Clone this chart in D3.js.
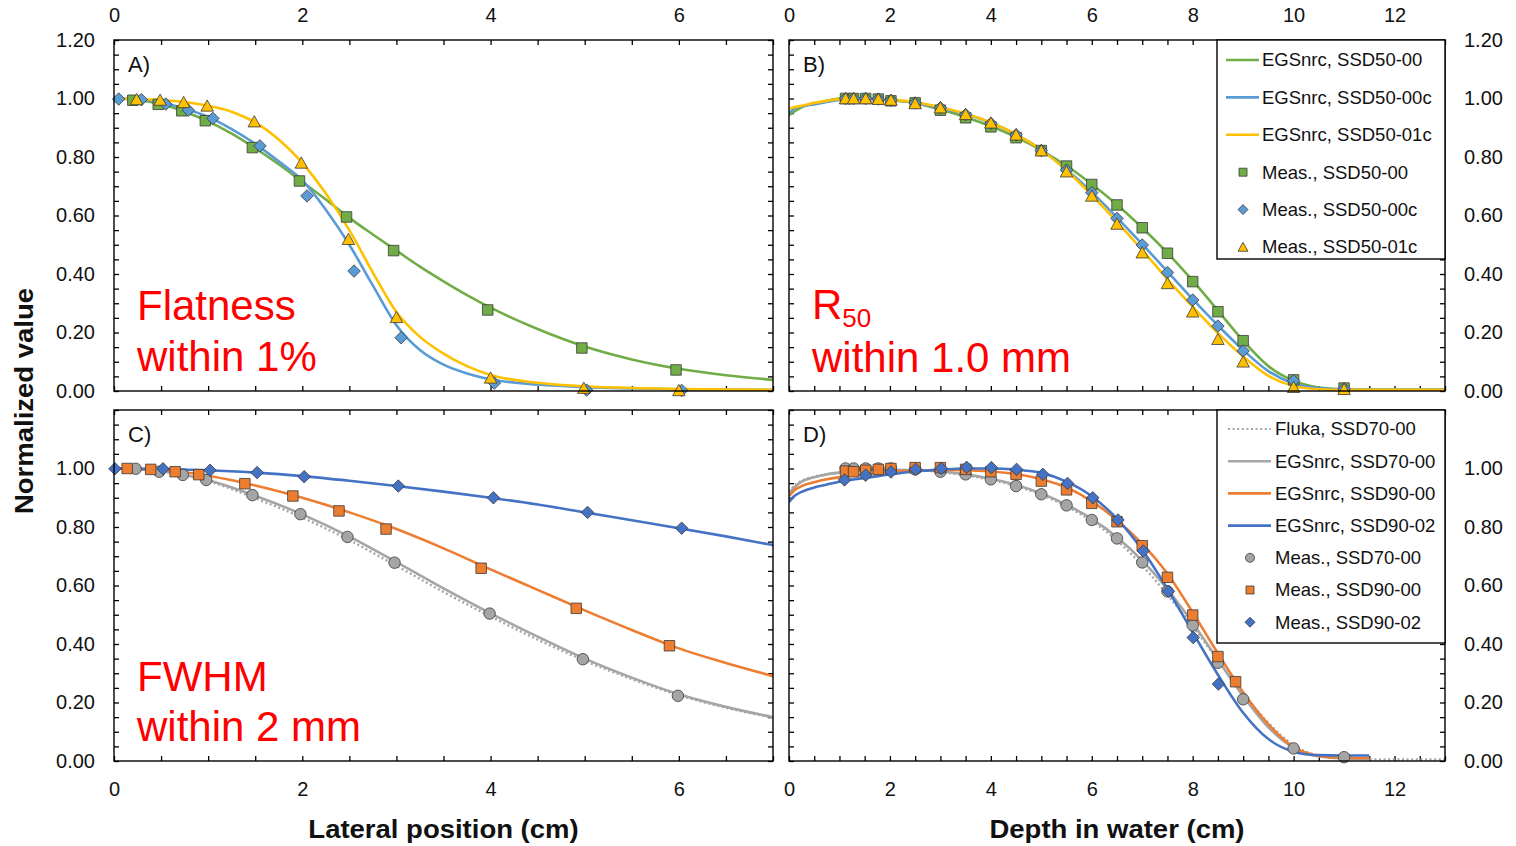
<!DOCTYPE html>
<html>
<head>
<meta charset="utf-8">
<script src="https://cdn.jsdelivr.net/npm/d3@7"></script>
<style>
  body { margin: 0; background: #fff; }
  svg { display: block; font-family: "Liberation Sans", Arial, sans-serif; }
</style>
</head>
<body>
<div id="chart"></div>
<script>
// ---------- Panel A: lateral profiles, SSD50 ----------
const aGrid = [0, 0.25, 0.5, 0.75, 1, 1.25, 1.5, 1.75, 2, 2.25, 2.5, 2.75, 3, 3.25, 3.5, 3.75, 4, 4.5, 5, 5.5, 6, 6.5, 7];
const aEgs5000 = [1.0, 0.995, 0.98, 0.955, 0.922, 0.88, 0.83, 0.775, 0.715, 0.655, 0.592, 0.535, 0.48, 0.425, 0.375, 0.328, 0.285, 0.212, 0.152, 0.108, 0.076, 0.054, 0.038];
const aEgs5000c = [1.0, 0.997, 0.987, 0.965, 0.937, 0.895, 0.845, 0.785, 0.72, 0.62, 0.5, 0.36, 0.225, 0.14, 0.09, 0.06, 0.04, 0.022, 0.013, 0.009, 0.006, 0.005, 0.004];
const aEgs5001c = [1.0, 0.998, 0.995, 0.988, 0.975, 0.955, 0.918, 0.86, 0.78, 0.675, 0.55, 0.405, 0.27, 0.185, 0.128, 0.085, 0.055, 0.028, 0.016, 0.01, 0.007, 0.005, 0.004];
const aMeas5000X = [0.2, 0.47, 0.72, 0.97, 1.47, 1.97, 2.47, 2.97, 3.97, 4.97, 5.97];
const aMeas5000 = [0.994, 0.98, 0.958, 0.924, 0.832, 0.718, 0.595, 0.48, 0.277, 0.147, 0.072];
const aMeas5000cX = [0.05, 0.29, 0.55, 0.79, 1.05, 1.55, 2.05, 2.55, 3.05, 4.04, 5.02, 6.03];
const aMeas5000c = [0.998, 0.996, 0.981, 0.96, 0.932, 0.838, 0.667, 0.41, 0.182, 0.027, 0.003, 0.002];
const aMeas5001cX = [0.24, 0.49, 0.74, 0.99, 1.49, 1.99, 2.49, 3.0, 4.0, 4.99, 6.0];
const aMeas5001c = [0.997, 0.995, 0.987, 0.975, 0.921, 0.78, 0.519, 0.252, 0.045, 0.01, 0.002];

// ---------- Panel B: depth dose, SSD50 ----------
const bGrid = [0, 0.1, 0.25, 0.5, 0.75, 1, 1.5, 2, 2.5, 3, 3.5, 4, 4.5, 5, 5.5, 6, 6.5, 7, 7.5, 8, 8.5, 9, 9.5, 10, 10.5, 11, 12, 13];
const bEgs5000 = [0.943, 0.955, 0.97, 0.982, 0.992, 1.0, 1.0, 0.995, 0.984, 0.962, 0.936, 0.905, 0.868, 0.823, 0.77, 0.707, 0.637, 0.558, 0.472, 0.377, 0.275, 0.172, 0.085, 0.035, 0.012, 0.006, 0.005, 0.005];
const bEgs5000c = [0.95, 0.965, 0.973, 0.98, 0.988, 0.995, 1.0, 0.995, 0.985, 0.968, 0.946, 0.917, 0.877, 0.825, 0.757, 0.68, 0.593, 0.502, 0.408, 0.314, 0.224, 0.14, 0.068, 0.026, 0.01, 0.005, 0.005, 0.005];
const bEgs5001c = [0.965, 0.97, 0.975, 0.985, 0.992, 0.998, 1.0, 0.996, 0.987, 0.97, 0.948, 0.918, 0.877, 0.824, 0.754, 0.67, 0.578, 0.482, 0.382, 0.288, 0.198, 0.118, 0.052, 0.017, 0.006, 0.004, 0.004, 0.004];
const bMeasX = [1.12, 1.28, 1.52, 1.77, 2.02, 2.5, 3, 3.5, 4, 4.5, 5, 5.5, 6, 6.5, 7, 7.5, 8, 8.5, 9, 10, 11];
const bMeas5000 = [1.0, 1.0, 1.0, 0.998, 0.992, 0.985, 0.96, 0.934, 0.903, 0.866, 0.822, 0.769, 0.706, 0.636, 0.558, 0.471, 0.374, 0.271, 0.172, 0.038, 0.01];
const bMeas5000c = [1.0, 1.0, 1.0, 0.998, 0.994, 0.985, 0.968, 0.945, 0.915, 0.876, 0.822, 0.755, 0.678, 0.59, 0.499, 0.405, 0.311, 0.222, 0.137, 0.035, 0.008];
const bMeas5001c = [1.0, 1.0, 1.0, 0.998, 0.995, 0.983, 0.969, 0.946, 0.917, 0.876, 0.822, 0.75, 0.667, 0.571, 0.473, 0.368, 0.271, 0.177, 0.1, 0.013, 0.006];

// ---------- Panel C: lateral profiles, SSD70/90 ----------
const cGrid = [0, 0.25, 0.5, 0.75, 1, 1.5, 2, 2.5, 3, 3.5, 4, 4.5, 5, 5.5, 6, 6.5, 7];
const cFluka7000 = [1.0, 0.998, 0.99, 0.977, 0.957, 0.898, 0.832, 0.755, 0.667, 0.578, 0.494, 0.415, 0.343, 0.28, 0.225, 0.182, 0.148];
const cEgs7000 = [1.0, 0.998, 0.99, 0.978, 0.96, 0.907, 0.843, 0.767, 0.68, 0.59, 0.505, 0.425, 0.35, 0.285, 0.228, 0.185, 0.15];
const cEgs9000 = [1.0, 0.999, 0.995, 0.987, 0.975, 0.942, 0.9, 0.85, 0.793, 0.727, 0.655, 0.585, 0.515, 0.448, 0.385, 0.335, 0.29];
const cEgs9002 = [1.0, 0.999, 0.998, 0.996, 0.994, 0.986, 0.974, 0.958, 0.94, 0.921, 0.9, 0.877, 0.85, 0.823, 0.796, 0.768, 0.738];
const cMeas7000X = [0.23, 0.48, 0.73, 0.98, 1.47, 1.98, 2.48, 2.98, 3.99, 4.98, 5.99];
const cMeas7000 = [0.999, 0.989, 0.978, 0.961, 0.909, 0.844, 0.766, 0.678, 0.504, 0.348, 0.223];
const cMeas9000X = [0.14, 0.39, 0.65, 0.9, 1.39, 1.9, 2.39, 2.89, 3.9, 4.91, 5.9];
const cMeas9000 = [1.0, 0.997, 0.989, 0.979, 0.948, 0.906, 0.855, 0.793, 0.659, 0.522, 0.394];
const cMeas9002X = [0.01, 0.52, 1.02, 1.52, 2.02, 3.02, 4.03, 5.03, 6.03];
const cMeas9002 = [0.999, 0.999, 0.994, 0.986, 0.972, 0.94, 0.9, 0.85, 0.796];

// ---------- Panel D: depth dose, SSD70/90 ----------
const dGrid = [0, 0.1, 0.25, 0.5, 0.75, 1, 1.5, 2, 2.5, 3, 3.5, 4, 4.5, 5, 5.5, 6, 6.5, 7, 7.5, 8, 8.5, 9, 9.5, 10, 10.5, 11, 11.5];
const dFlukaGrid = [0, 0.1, 0.25, 0.5, 0.75, 1, 1.5, 2, 2.5, 3, 3.5, 4, 4.5, 5, 5.5, 6, 6.5, 7, 7.5, 8, 8.5, 9, 9.5, 10, 10.5, 11, 11.5, 12, 12.5, 13];
const dFluka7000 = [0.92, 0.94, 0.958, 0.972, 0.981, 0.987, 0.993, 0.995, 0.994, 0.988, 0.977, 0.961, 0.94, 0.91, 0.87, 0.82, 0.754, 0.668, 0.568, 0.46, 0.345, 0.232, 0.13, 0.054, 0.018, 0.008, 0.006, 0.005, 0.005, 0.005];
const dEgs7000 = [0.915, 0.935, 0.955, 0.97, 0.98, 0.986, 0.992, 0.995, 0.995, 0.99, 0.98, 0.965, 0.944, 0.915, 0.876, 0.828, 0.765, 0.685, 0.587, 0.472, 0.346, 0.222, 0.115, 0.045, 0.016, 0.009, 0.008];
const dEgs9000 = [0.905, 0.925, 0.94, 0.953, 0.963, 0.97, 0.98, 0.988, 0.993, 0.995, 0.994, 0.99, 0.981, 0.963, 0.935, 0.888, 0.823, 0.742, 0.64, 0.508, 0.368, 0.235, 0.125, 0.048, 0.017, 0.011, 0.01];
const dEgs9002 = [0.885, 0.905, 0.92, 0.935, 0.945, 0.955, 0.968, 0.98, 0.99, 0.996, 1.0, 1.0, 0.996, 0.985, 0.955, 0.905, 0.828, 0.722, 0.588, 0.44, 0.295, 0.165, 0.075, 0.032, 0.02, 0.019, 0.019];
const dMeas7000X = [1.12, 1.28, 1.52, 1.77, 2.02, 2.5, 3, 3.5, 4, 4.5, 5, 5.5, 6, 6.5, 7, 7.5, 8, 8.5, 9, 10, 11];
const dMeas7000 = [1.0, 1.0, 1.0, 1.0, 1.0, 0.997, 0.989, 0.98, 0.963, 0.94, 0.912, 0.874, 0.824, 0.761, 0.679, 0.58, 0.464, 0.336, 0.211, 0.043, 0.013];
const dMeas9000X = [1.12, 1.28, 1.52, 1.77, 2.02, 2.5, 3, 3.5, 4, 4.5, 5, 5.5, 6, 6.5, 7, 7.5, 8, 8.5, 8.85];
const dMeas9000 = [0.991, 0.989, 0.994, 0.997, 1.0, 1.003, 1.003, 0.997, 0.989, 0.98, 0.957, 0.927, 0.881, 0.818, 0.736, 0.628, 0.499, 0.357, 0.271];
const dMeas9002X = [1.1, 1.52, 2.02, 2.51, 3.02, 3.52, 4.01, 4.51, 5.03, 5.52, 6.02, 6.52, 7.02, 7.52, 8.01, 8.51];
const dMeas9002 = [0.961, 0.977, 0.988, 0.997, 1.0, 1.004, 1.003, 0.997, 0.98, 0.949, 0.9, 0.824, 0.718, 0.58, 0.422, 0.263];

// ---------- tick labels ----------
const yLabelsTop = [0, 0.2, 0.4, 0.6, 0.8, 1.0, 1.2];
const yLabelsBottom = [0, 0.2, 0.4, 0.6, 0.8, 1.0];
const xLabelsLateral = [0, 2, 4, 6];
const xLabelsDepth = [0, 2, 4, 6, 8, 10, 12];

const col = {
  green: "#70AD47",
  lightBlue: "#5B9BD5",
  yellow: "#FFC000",
  orange: "#ED7D31",
  gray: "#A5A5A5",
  blue: "#4472C4",
};

// marker shapes, size = width in px
const shapes = {
  square: { draw(c, s) { const h = s / 2; c.rect(-h, -h, s, s); } },
  diamond: { draw(c, s) { const h = s / 2; c.moveTo(0, -h); c.lineTo(h, 0); c.lineTo(0, h); c.lineTo(-h, 0); c.closePath(); } },
  triangle: { draw(c, s) { const h = s / 2; c.moveTo(0, -h * 0.95); c.lineTo(h, h * 0.85); c.lineTo(-h, h * 0.85); c.closePath(); } },
  circle: { draw(c, s) { const r = s / 2; c.moveTo(r, 0); c.arc(0, 0, r, 0, 2 * Math.PI); } },
};

const W = 1516, H = 846;
const svg = d3.select("#chart").append("svg").attr("width", W).attr("height", H);

const panels = [
  {
    name: "A", left: 114, right: 773, top: 40, bottom: 391, xMax: 7,
    yLabels: yLabelsTop, ySide: "left", xLabels: xLabelsLateral, xSide: "top",
    lines: [
      { x: aGrid, y: aEgs5000, color: col.green },
      { x: aGrid, y: aEgs5000c, color: col.lightBlue },
      { x: aGrid, y: aEgs5001c, color: col.yellow },
    ],
    markers: [
      { x: aMeas5000X, y: aMeas5000, shape: "square", size: 10.5, color: col.green },
      { x: aMeas5000cX, y: aMeas5000c, shape: "diamond", size: 12.5, color: col.lightBlue },
      { x: aMeas5001cX, y: aMeas5001c, shape: "triangle", size: 12.5, color: col.yellow },
    ],
    note: [{ t: "Flatness", y: 320 }, { t: "within 1%", y: 371 }],
  },
  {
    name: "B", left: 789, right: 1445, top: 40, bottom: 391, xMax: 13,
    yLabels: yLabelsTop, ySide: "right", xLabels: xLabelsDepth, xSide: "top",
    lines: [
      { x: bGrid, y: bEgs5000, color: col.green },
      { x: bGrid, y: bEgs5000c, color: col.lightBlue },
      { x: bGrid, y: bEgs5001c, color: col.yellow },
    ],
    markers: [
      { x: bMeasX, y: bMeas5000, shape: "square", size: 10.5, color: col.green },
      { x: bMeasX, y: bMeas5000c, shape: "diamond", size: 12.5, color: col.lightBlue },
      { x: bMeasX, y: bMeas5001c, shape: "triangle", size: 12.5, color: col.yellow },
    ],
    note: [{ t: "R", sub: "50", y: 319 }, { t: "within 1.0 mm", y: 372 }],
    legend: {
      left: 1217, top: 40, width: 228, height: 219, rowTop: 60, rowStep: 37.4,
      lineX: [1226, 1259], textX: 1262, markX: 1243,
      items: [
        { label: "EGSnrc, SSD50-00", line: col.green },
        { label: "EGSnrc, SSD50-00c", line: col.lightBlue },
        { label: "EGSnrc, SSD50-01c", line: col.yellow },
        { label: "Meas., SSD50-00", shape: "square", color: col.green, size: 8 },
        { label: "Meas., SSD50-00c", shape: "diamond", color: col.lightBlue, size: 10 },
        { label: "Meas., SSD50-01c", shape: "triangle", color: col.yellow, size: 10 },
      ],
    },
  },
  {
    name: "C", left: 114, right: 773, top: 410, bottom: 761, xMax: 7,
    yLabels: yLabelsBottom, ySide: "left", xLabels: xLabelsLateral, xSide: "bottom",
    lines: [
      { x: cGrid, y: cFluka7000, color: col.gray, dash: "2,2.6", width: 2.4 },
      { x: cGrid, y: cEgs7000, color: col.gray },
      { x: cGrid, y: cEgs9000, color: col.orange },
      { x: cGrid, y: cEgs9002, color: col.blue },
    ],
    markers: [
      { x: cMeas7000X, y: cMeas7000, shape: "circle", size: 11.5, color: col.gray },
      { x: cMeas9000X, y: cMeas9000, shape: "square", size: 10.5, color: col.orange },
      { x: cMeas9002X, y: cMeas9002, shape: "diamond", size: 12.5, color: col.blue },
    ],
    note: [{ t: "FWHM", y: 691 }, { t: "within 2 mm", y: 741 }],
  },
  {
    name: "D", left: 789, right: 1445, top: 410, bottom: 761, xMax: 13,
    yLabels: yLabelsBottom, ySide: "right", xLabels: xLabelsDepth, xSide: "bottom",
    lines: [
      { x: dFlukaGrid, y: dFluka7000, color: col.gray, dash: "2,2.6", width: 2.4 },
      { x: dGrid, y: dEgs7000, color: col.gray },
      { x: dGrid, y: dEgs9000, color: col.orange },
      { x: dGrid, y: dEgs9002, color: col.blue },
    ],
    markers: [
      { x: dMeas7000X, y: dMeas7000, shape: "circle", size: 11.5, color: col.gray },
      { x: dMeas9000X, y: dMeas9000, shape: "square", size: 10.5, color: col.orange },
      { x: dMeas9002X, y: dMeas9002, shape: "diamond", size: 12.5, color: col.blue },
    ],
    legend: {
      left: 1217, top: 410, width: 228, height: 233, rowTop: 429, rowStep: 32.2,
      lineX: [1228, 1271], textX: 1275, markX: 1250,
      items: [
        { label: "Fluka, SSD70-00", line: col.gray, dash: "2,2.6", width: 2 },
        { label: "EGSnrc, SSD70-00", line: col.gray },
        { label: "EGSnrc, SSD90-00", line: col.orange },
        { label: "EGSnrc, SSD90-02", line: col.blue },
        { label: "Meas., SSD70-00", shape: "circle", color: col.gray, size: 9 },
        { label: "Meas., SSD90-00", shape: "square", color: col.orange, size: 8 },
        { label: "Meas., SSD90-02", shape: "diamond", color: col.blue, size: 10 },
      ],
    },
  },
];

function drawPanel(p) {
  const x = d3.scaleLinear().domain([0, p.xMax]).range([p.left, p.right]);
  const y = d3.scaleLinear().domain([0, 1.2]).range([p.bottom, p.top]);
  const g = svg.append("g").attr("class", `panel panel-${p.name}`);

  g.append("clipPath").attr("id", `clip-${p.name}`)
    .append("rect")
    .attr("x", p.left).attr("y", p.top)
    .attr("width", p.right - p.left).attr("height", p.bottom - p.top);

  // minor ticks on all four sides, pointing inward
  const yTicks = d3.range(0, 25).map((i) => i * 0.05);
  const xTicks = d3.range(0, p.xMax * 2 + 1).map((i) => i * 0.5);
  const tickAxes = [
    [d3.axisLeft(y).tickValues(yTicks), `translate(${p.left},0)`],
    [d3.axisRight(y).tickValues(yTicks), `translate(${p.right},0)`],
    [d3.axisTop(x).tickValues(xTicks), `translate(0,${p.top})`],
    [d3.axisBottom(x).tickValues(xTicks), `translate(0,${p.bottom})`],
  ];
  tickAxes.forEach(([axis, tr]) => {
    g.append("g")
      .attr("transform", tr)
      .call(axis.tickSize(-5).tickFormat(""))
      .call((a) => a.select(".domain").remove())
      .call((a) => a.selectAll("line").attr("stroke", "#000").attr("stroke-width", 1.3));
  });

  // value labels
  const yAxis = p.ySide === "left" ? d3.axisLeft(y) : d3.axisRight(y);
  g.append("g")
    .attr("transform", `translate(${p.ySide === "left" ? p.left : p.right},0)`)
    .call(yAxis.tickValues(p.yLabels).tickSize(0).tickPadding(19).tickFormat(d3.format(".2f")))
    .attr("font-size", 20).attr("font-family", null)
    .call((a) => a.select(".domain").remove())
    .call((a) => a.selectAll("text").attr("fill", "#111"));

  const xAxis = p.xSide === "top" ? d3.axisTop(x) : d3.axisBottom(x);
  g.append("g")
    .attr("transform", `translate(0,${p.xSide === "top" ? p.top : p.bottom})`)
    .call(xAxis.tickValues(p.xLabels).tickSize(0).tickPadding(p.xSide === "top" ? 18 : 21).tickFormat(d3.format("d")))
    .attr("font-size", 20).attr("font-family", null)
    .call((a) => a.select(".domain").remove())
    .call((a) => a.selectAll("text").attr("fill", "#111"));

  // curves
  const line = d3.line().x((d) => x(d[0])).y((d) => y(d[1])).curve(d3.curveMonotoneX);
  const plot = g.append("g").attr("clip-path", `url(#clip-${p.name})`);
  plot.selectAll("path.curve")
    .data(p.lines)
    .join("path")
    .attr("class", "curve")
    .attr("d", (s) => line(d3.zip(s.x, s.y)))
    .attr("fill", "none")
    .attr("stroke", (s) => s.color)
    .attr("stroke-width", (s) => s.width || 2.6)
    .attr("stroke-dasharray", (s) => s.dash || null)
    .attr("stroke-linejoin", "round");

  // measured points
  p.markers.forEach((m) => {
    const sym = d3.symbol().type(shapes[m.shape]).size(m.size);
    g.append("g")
      .selectAll("path")
      .data(d3.zip(m.x, m.y))
      .join("path")
      .attr("transform", (d) => `translate(${x(d[0])},${y(d[1])})`)
      .attr("d", sym)
      .attr("fill", m.color)
      .attr("stroke", "#3a3a3a")
      .attr("stroke-width", 0.8);
  });

  // frame
  g.append("rect")
    .attr("x", p.left).attr("y", p.top)
    .attr("width", p.right - p.left).attr("height", p.bottom - p.top)
    .attr("fill", "none").attr("stroke", "#000").attr("stroke-width", 1.4);

  // panel letter
  g.append("text")
    .attr("x", p.left + 14).attr("y", p.top + 32)
    .attr("font-size", 22).attr("fill", "#111")
    .text(`${p.name})`);

  // red annotation
  if (p.note) {
    p.note.forEach((n) => {
      const t = g.append("text")
        .attr("x", p.left + 23).attr("y", n.y)
        .attr("font-size", 42).attr("fill", "#FF0000")
        .text(n.t);
      if (n.sub) {
        t.append("tspan").attr("font-size", 26).attr("dy", 8).text(n.sub);
      }
    });
  }

  // legend
  if (p.legend) {
    const L = p.legend;
    const lg = g.append("g").attr("class", "legend");
    lg.append("rect")
      .attr("x", L.left).attr("y", L.top)
      .attr("width", L.width).attr("height", L.height)
      .attr("fill", "#fff").attr("stroke", "#000").attr("stroke-width", 1.4);
    L.items.forEach((it, i) => {
      const cy = L.rowTop + i * L.rowStep;
      if (it.line) {
        lg.append("line")
          .attr("x1", L.lineX[0]).attr("x2", L.lineX[1])
          .attr("y1", cy).attr("y2", cy)
          .attr("stroke", it.line)
          .attr("stroke-width", it.width || 2.6)
          .attr("stroke-dasharray", it.dash || null);
      } else {
        lg.append("path")
          .attr("transform", `translate(${L.markX},${cy})`)
          .attr("d", d3.symbol().type(shapes[it.shape]).size(it.size))
          .attr("fill", it.color)
          .attr("stroke", "#3a3a3a")
          .attr("stroke-width", 0.8);
      }
      lg.append("text")
        .attr("x", L.textX).attr("y", cy)
        .attr("dy", "0.35em")
        .attr("font-size", 18.5).attr("fill", "#111")
        .text(it.label);
    });
  }
}

panels.forEach(drawPanel);

// axis titles (slightly widened, like the source figure)
const titles = [
  { t: "Lateral position (cm)", tr: "translate(443.5,838) scale(1.1,1)" },
  { t: "Depth in water (cm)", tr: "translate(1117,838) scale(1.1,1)" },
  { t: "Normalized value", tr: "translate(33,401) rotate(-90) scale(1.1,1)" },
];
svg.selectAll("text.title")
  .data(titles)
  .join("text")
  .attr("class", "title")
  .attr("transform", (d) => d.tr)
  .attr("text-anchor", "middle")
  .attr("font-size", 25).attr("font-weight", "bold").attr("fill", "#111")
  .text((d) => d.t);
</script>
</body>
</html>
